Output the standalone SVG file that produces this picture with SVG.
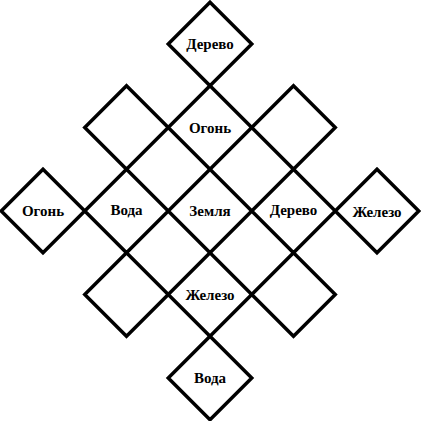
<svg xmlns="http://www.w3.org/2000/svg" width="421" height="421" viewBox="0 0 421 421">
<defs>
<style>
.d{fill:#fff;stroke:#000;stroke-width:3.5;stroke-linejoin:miter}
.t{font-family:"Liberation Serif","Times New Roman",serif;font-weight:bold;font-size:15px;text-anchor:middle;fill:#000}
</style>
<path id="dm" d="M0,-41.75 L41.75,0 L0,41.75 L-41.75,0 Z"/>
</defs>
<rect width="421" height="421" fill="#fff"/>
<g id="connectors"/>
<g id="n-top" transform="translate(210,44)"><use href="#dm" class="d"/><text class="t" y="5">Дерево</text></g>
<g id="n-ul" transform="translate(126.5,127.5)"><use href="#dm" class="d"/></g>
<g id="n-ogon-top" transform="translate(210,127.5)"><use href="#dm" class="d"/><text class="t" y="5">Огонь</text></g>
<g id="n-ur" transform="translate(293.5,127.5)"><use href="#dm" class="d"/></g>
<g id="n-ogon-left" transform="translate(43,211)"><use href="#dm" class="d"/><text class="t" y="5">Огонь</text></g>
<g id="n-voda-mid" transform="translate(126.5,211)"><use href="#dm" class="d"/><text class="t" y="4">Вода</text></g>
<g id="n-zemlya" transform="translate(210,211)"><use href="#dm" class="d"/><text class="t" y="5">Земля</text></g>
<g id="n-derevo-mid" transform="translate(293.5,211)"><use href="#dm" class="d"/><text class="t" y="4">Дерево</text></g>
<g id="n-zhelezo-right" transform="translate(377,211)"><use href="#dm" class="d"/><text class="t" y="6">Железо</text></g>
<g id="n-ll" transform="translate(126.5,294.5)"><use href="#dm" class="d"/></g>
<g id="n-zhelezo-bottom" transform="translate(210,294.5)"><use href="#dm" class="d"/><text class="t" y="5">Железо</text></g>
<g id="n-lr" transform="translate(293.5,294.5)"><use href="#dm" class="d"/></g>
<g id="n-bottom" transform="translate(210,378)"><use href="#dm" class="d"/><text class="t" y="5">Вода</text></g>
</svg>
